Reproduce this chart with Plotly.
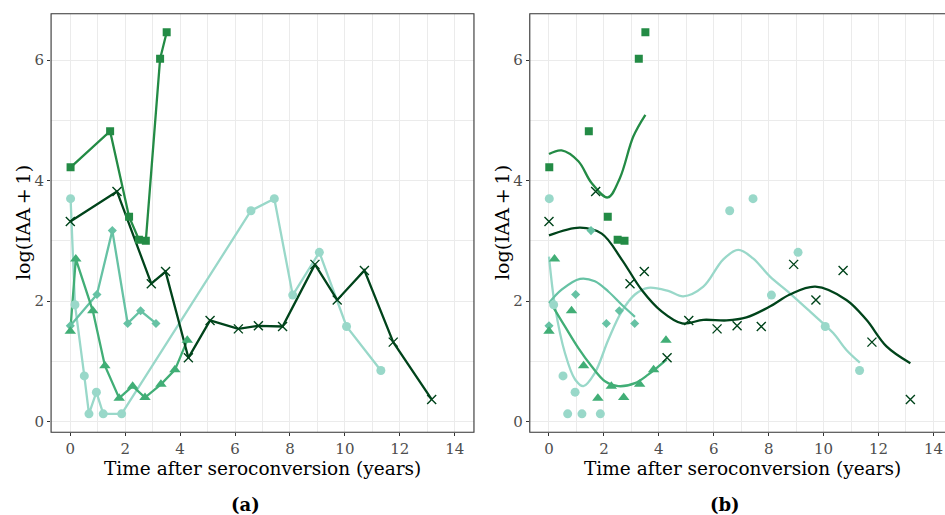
import plotly.graph_objects as go

# Observed log(IAA + 1) per subject against time after seroconversion (years)
sq_t = [0.01, 1.45, 2.14, 2.50, 2.75, 3.27, 3.51]
sq_v = [4.22, 4.82, 3.40, 3.02, 3.00, 6.02, 6.46]

x_t = [0.0, 1.70, 2.95, 3.47, 4.30, 5.09, 6.12, 6.85, 7.73, 8.91, 9.72, 10.71, 11.76, 13.16]
x_v = [3.32, 3.82, 2.29, 2.49, 1.06, 1.68, 1.54, 1.59, 1.58, 2.61, 2.02, 2.51, 1.32, 0.37]

ci_t = [0.01, 0.17, 0.51, 0.68, 0.95, 1.20, 1.87, 6.58, 7.43, 8.10, 9.07, 10.06, 11.31]
ci_v = [3.70, 1.94, 0.76, 0.13, 0.49, 0.13, 0.13, 3.50, 3.70, 2.10, 2.81, 1.58, 0.85]

dm_t = [0.0, 0.97, 1.53, 2.09, 2.56, 3.12]
dm_v = [1.59, 2.11, 3.17, 1.63, 1.84, 1.63]

tr_t = [0.0, 0.20, 0.82, 1.26, 1.78, 2.27, 2.72, 3.30, 3.81, 4.26]
tr_v = [1.50, 2.70, 1.84, 0.93, 0.39, 0.59, 0.40, 0.62, 0.86, 1.35]

# Smoothed subject-specific fits (panel b)
sq_fit_t = [0.0, 0.46, 1.07, 1.55, 2.14, 2.58, 3.07, 3.51]
sq_fit_v = [4.44, 4.50, 4.32, 3.96, 3.72, 4.04, 4.73, 5.09]

x_fit_t = [0.0, 1.13, 1.92, 2.65, 3.37, 4.10, 4.85, 5.62, 6.47, 7.19, 8.04, 8.77,
           9.70, 10.83, 11.56, 12.29, 13.16]
x_fit_v = [3.09, 3.22, 3.12, 2.69, 2.19, 1.83, 1.63, 1.69, 1.68, 1.73, 1.91, 2.11,
           2.24, 2.02, 1.69, 1.25, 0.97]

ci_fit_t = [0.0, 0.22, 0.58, 0.95, 1.25, 1.67, 2.16, 2.65, 3.13, 3.61, 4.34, 4.89,
            5.62, 6.34, 6.89, 7.43, 8.04, 8.77, 9.50, 10.35, 10.83, 11.32]
ci_fit_v = [2.74, 1.91, 1.14, 0.70, 0.59, 0.81, 1.36, 1.83, 2.11, 2.22, 2.17, 2.08,
            2.24, 2.69, 2.85, 2.71, 2.41, 2.13, 1.83, 1.47, 1.19, 0.98]

dm_fit_t = [0.0, 0.46, 1.13, 1.67, 2.16, 2.65, 3.13]
dm_fit_v = [1.97, 2.19, 2.37, 2.33, 2.16, 1.94, 1.74]

tr_fit_t = [0.05, 0.58, 1.07, 1.55, 2.04, 2.52, 3.13, 3.61, 4.28]
tr_fit_v = [1.98, 1.58, 1.22, 0.92, 0.67, 0.59, 0.64, 0.78, 1.03]

x_ticks = [0, 2, 4, 6, 8, 10, 12, 14]
y_ticks = [0, 2, 4, 6]

# BuGn palette shades per subject
subjects = [
    dict(t=ci_t, v=ci_v, ft=ci_fit_t, fv=ci_fit_v, color="#99d8c9", symbol="circle", size=9),
    dict(t=dm_t, v=dm_v, ft=dm_fit_t, fv=dm_fit_v, color="#66c2a4", symbol="diamond", size=7),
    dict(t=tr_t, v=tr_v, ft=tr_fit_t, fv=tr_fit_v, color="#41ae76", symbol="triangle-up", size=10),
    dict(t=sq_t, v=sq_v, ft=sq_fit_t, fv=sq_fit_v, color="#238b45", symbol="square", size=8),
    dict(t=x_t, v=x_v, ft=x_fit_t, fv=x_fit_v, color="#00441b", symbol="x-thin", size=9),
]

W, H = 945, 515
FONT = "DejaVu Serif"

fig = go.Figure()


def marker_style(s):
    m = dict(symbol=s["symbol"], size=s["size"], color=s["color"])
    if s["symbol"] == "x-thin":
        m["line"] = dict(width=1.4, color=s["color"])
    else:
        m["line"] = dict(width=0)
    return m


# Panel (a): connected trajectories
for s in subjects:
    fig.add_trace(go.Scatter(x=s["t"], y=s["v"], mode="lines",
                             line=dict(color=s["color"], width=2.3),
                             xaxis="x", yaxis="y", hoverinfo="skip"))
for s in subjects:
    fig.add_trace(go.Scatter(x=s["t"], y=s["v"], mode="markers",
                             marker=marker_style(s), xaxis="x", yaxis="y"))

# Panel (b): observations with smooth fitted curves
for s in subjects:
    fig.add_trace(go.Scatter(x=s["ft"], y=s["fv"], mode="lines",
                             line=dict(color=s["color"], width=2.3, shape="spline", smoothing=1.0),
                             xaxis="x2", yaxis="y2", hoverinfo="skip"))
for s in subjects:
    fig.add_trace(go.Scatter(x=s["t"], y=s["v"], mode="markers",
                             marker=marker_style(s), xaxis="x2", yaxis="y2"))

px_year = 27.46
px_unit = 60.28
left_zero = 70.3
right_zero = 549.0
y_zero_px = 421.7
top_px, bottom_px = 13.7, 432.3

y_range = [-(bottom_px - y_zero_px) / px_unit, (y_zero_px - top_px) / px_unit]
y_dom = [1 - bottom_px / H, 1 - top_px / H]

l0 = left_zero - 0.7 * px_year
l1 = left_zero + 14.7 * px_year
r0 = right_zero - 0.7 * px_year
r_max = (W - right_zero) / px_year

grid = dict(showgrid=True, gridcolor="#ebebeb", gridwidth=1.2, zeroline=False,
            ticks="outside", ticklen=3, tickwidth=1, tickcolor="#333333",
            tickfont=dict(family=FONT, size=15, color="#4d4d4d"),
            showline=False, automargin=False)
minor = dict(dtick=1, tick0=0, showgrid=True, gridcolor="#ebebeb", gridwidth=0.8, ticks="")

fig.update_layout(
    width=W, height=H, margin=dict(l=0, r=0, t=0, b=0),
    paper_bgcolor="white", plot_bgcolor="white", showlegend=False,
    font=dict(family=FONT),
    xaxis=dict(domain=[l0 / W, l1 / W], range=[-0.7, 14.7], tickvals=x_ticks,
               minor=minor, anchor="y", **grid),
    yaxis=dict(domain=y_dom, range=y_range, tickvals=y_ticks,
               minor=minor, anchor="x", **grid),
    xaxis2=dict(domain=[r0 / W, 1.0], range=[-0.7, r_max], tickvals=x_ticks,
                minor=minor, anchor="y2", **grid),
    yaxis2=dict(domain=y_dom, range=y_range, tickvals=y_ticks,
                minor=minor, anchor="x2", **grid),
)

# Panel borders
fig.add_shape(type="rect", xref="x domain", yref="y domain", x0=0, x1=1, y0=0, y1=1,
              line=dict(color="#333333", width=1.1), layer="above")
fig.add_shape(type="rect", xref="x2 domain", yref="y2 domain", x0=0, x1=1.05, y0=0, y1=1,
              line=dict(color="#333333", width=1.1), layer="above")

# Axis titles and panel labels
xtitle = "Time after seroconversion (years)"
ytitle = "log(IAA\u2009+\u20091)"
for cx, lx, lab in [(262.5, 245.5, "(a)"), (742.0, 725.0, "(b)")]:
    fig.add_annotation(x=cx / W, y=1 - 468 / H, xref="paper", yref="paper",
                       text=xtitle, showarrow=False, xanchor="center", yanchor="middle",
                       font=dict(family=FONT, size=18.5, color="black"))
    fig.add_annotation(x=lx / W, y=1 - 504 / H, xref="paper", yref="paper",
                       text="<b>" + lab + "</b>", showarrow=False, xanchor="center", yanchor="middle",
                       font=dict(family=FONT, size=18, color="black"))
for cx in [23.0, 502.0]:
    fig.add_annotation(x=cx / W, y=1 - 223 / H, xref="paper", yref="paper",
                       text=ytitle, showarrow=False, textangle=-90, xanchor="center", yanchor="middle",
                       font=dict(family=FONT, size=19, color="black"))

fig.write_html("out.html")
